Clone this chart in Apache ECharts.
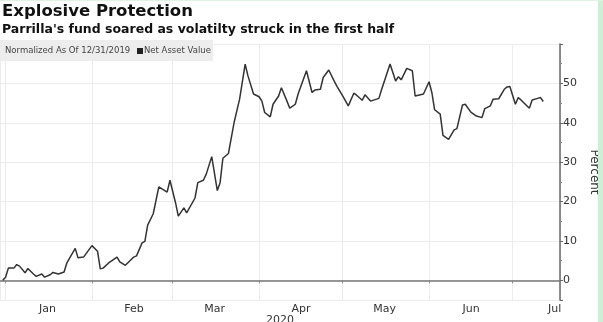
<!DOCTYPE html>
<html>
<head>
<meta charset="utf-8">
<script src="https://cdn.jsdelivr.net/npm/echarts@6/dist/echarts.min.js"></script>
<style>
html,body{margin:0;padding:0;background:#fff;}
#c{position:absolute;left:0;top:0;width:603px;height:322px;}
#edge{position:absolute;left:598px;top:0;width:5px;height:322px;background:#cfeed6;}
#edgeTop{position:absolute;left:0;top:0;width:603px;height:1px;background:#dff2e3;}
</style>
</head>
<body>
<div id="c"></div>
<div id="edge"></div>
<div id="edgeTop"></div>
<script>
const titleText = 'Explosive Protection';
const subtitleText = "Parrilla's fund soared as volatilty struck in the first half";
const noteText = 'Normalized As Of 12/31/2019';
const seriesName = 'Net Asset Value';
const monthNames = ['Jan','Feb','Mar','Apr','May','Jun','Jul','Aug','Sep','Oct','Nov','Dec'];
const yearLabel = '2020';
const yAxisName = 'Percent';

const dates = [
 '2019-12-31','2020-01-01','2020-01-02','2020-01-04','2020-01-05','2020-01-06','2020-01-08','2020-01-09',
 '2020-01-11','2020-01-12','2020-01-14','2020-01-15','2020-01-17','2020-01-18','2020-01-20','2020-01-22',
 '2020-01-23','2020-01-26','2020-01-27','2020-01-29','2020-02-01','2020-02-03','2020-02-04','2020-02-05',
 '2020-02-07','2020-02-10','2020-02-11','2020-02-13','2020-02-16','2020-02-17','2020-02-19','2020-02-20',
 '2020-02-21','2020-02-23','2020-02-25','2020-02-28','2020-02-29','2020-03-02','2020-03-03','2020-03-05',
 '2020-03-06','2020-03-09','2020-03-10','2020-03-12','2020-03-13','2020-03-15','2020-03-17','2020-03-18',
 '2020-03-19','2020-03-21','2020-03-23','2020-03-25','2020-03-27','2020-03-28','2020-03-30','2020-04-01',
 '2020-04-02','2020-04-03','2020-04-05','2020-04-06','2020-04-08','2020-04-09','2020-04-11','2020-04-12',
 '2020-04-14','2020-04-15','2020-04-18','2020-04-20','2020-04-21','2020-04-23','2020-04-24','2020-04-26',
 '2020-04-28','2020-04-29','2020-05-01','2020-05-03','2020-05-05','2020-05-06','2020-05-08','2020-05-09',
 '2020-05-11','2020-05-14','2020-05-15','2020-05-18','2020-05-20','2020-05-21','2020-05-22','2020-05-24',
 '2020-05-26','2020-05-27','2020-05-30','2020-06-01','2020-06-02','2020-06-03','2020-06-05','2020-06-06',
 '2020-06-08','2020-06-10','2020-06-11','2020-06-13','2020-06-14','2020-06-16','2020-06-18','2020-06-20',
 '2020-06-21','2020-06-23','2020-06-24','2020-06-26','2020-06-28','2020-06-29','2020-06-30','2020-07-02',
 '2020-07-03','2020-07-04','2020-07-07','2020-07-08','2020-07-10','2020-07-11','2020-07-12'
];
const navValues = [
 0.0, 0.8, 3.1, 3.1, 4.0, 3.6, 1.9, 3.0,
 1.6, 1.0, 1.6, 0.8, 1.4, 2.0, 1.6, 2.1,
 4.4, 8.1, 5.7, 5.9, 8.8, 7.4, 2.9, 3.1,
 4.4, 5.9, 4.7, 3.8, 5.9, 6.2, 9.5, 9.9,
 14.0, 16.9, 23.7, 22.4, 25.4, 19.7, 16.3, 18.4,
 17.1, 20.9, 24.8, 25.4, 26.9, 31.4, 22.8, 24.8,
 31.0, 32.2, 40.0, 46.0, 54.9, 51.9, 47.3, 46.6,
 45.5, 42.6, 41.5, 44.7, 46.8, 48.9, 45.5, 43.7,
 44.7, 47.3, 53.2, 47.7, 48.3, 48.5, 51.5, 53.4,
 50.5, 49.2, 46.8, 44.3, 47.5, 47.0, 45.7, 47.1,
 45.5, 46.2, 48.5, 54.9, 50.6, 51.7, 50.9, 53.8,
 53.2, 46.8, 47.3, 50.4, 47.7, 43.3, 42.2, 36.8,
 35.8, 38.2, 38.5, 44.5, 44.7, 42.7, 41.7, 41.3,
 43.6, 44.3, 46.0, 46.1, 48.5, 49.1, 49.2, 44.7,
 46.4, 45.8, 43.7, 45.8, 46.2, 46.4, 45.4
];
const xMin = '2019-12-30';
const xMax = '2020-07-18';
const yMin = -5;
const yMax = 60;
const yLabelMin = 0;
const yLabelMax = 50;

const seriesData = dates.map((d, i) => [d, navValues[i]]);
const font = 'DejaVu Sans';

const chart = echarts.init(document.getElementById('c'), null, {renderer: 'canvas'});
chart.setOption({
  animation: false,
  backgroundColor: 'transparent',
  grid: {left: 0, right: 43, top: 44, bottom: 22, containLabel: false, outerBoundsMode: 'none'},
  graphic: [
    {type: 'text', left: 2, top: 3, style: {text: titleText, font: 'bold 16.5px "DejaVu Sans"', fill: '#111'}},
    {type: 'text', left: 2, top: 23, style: {text: subtitleText, font: 'bold 12.5px "DejaVu Sans"', fill: '#111'}},
    {type: 'rect', left: 0, top: 40, z: 10, shape: {width: 213, height: 21}, style: {fill: '#ededed'}},
    {type: 'text', left: 5, top: 46, z: 11, style: {text: noteText, font: '8.5px "DejaVu Sans"', fill: '#444'}},
    {type: 'rect', left: 137, top: 48, z: 11, shape: {width: 6, height: 6}, style: {fill: '#222'}},
    {type: 'text', left: 144, top: 46, z: 11, style: {text: seriesName, font: '8.5px "DejaVu Sans"', fill: '#444'}}
  ],
  xAxis: {
    type: 'time',
    min: xMin,
    max: xMax,
    splitNumber: 7,
    minInterval: 28 * 86400000,
    maxInterval: 31 * 86400000,
    name: yearLabel,
    nameLocation: 'middle',
    nameGap: 15,
    nameMoveOverlap: false,
    nameTextStyle: {fontFamily: font, fontSize: 11, color: '#333'},
    axisLine: {show: true, lineStyle: {color: '#777', width: 1.5}},
    axisTick: {show: true, length: 3, lineStyle: {color: '#888'}},
    minorTick: {show: false},
    splitLine: {show: true, lineStyle: {color: '#ececec', width: 1}},
    axisLabel: {
      fontFamily: font, fontSize: 11, color: '#333', margin: 4,
      padding: [0, 0, 0, 84],
      formatter: function (v) { return monthNames[new Date(v).getMonth()]; }
    }
  },
  yAxis: {
    type: 'value',
    position: 'right',
    min: yMin,
    max: yMax,
    splitNumber: 7,
    name: yAxisName,
    nameLocation: 'middle',
    nameRotate: -90,
    nameGap: 23,
    nameTextStyle: {fontFamily: font, fontSize: 12, color: '#333'},
    axisLine: {show: true, lineStyle: {color: '#666', width: 1.5}},
    axisTick: {show: true, length: 3, lineStyle: {color: '#666'}},
    minorTick: {show: true, splitNumber: 2, length: 2, lineStyle: {color: '#888'}},
    splitLine: {show: true, lineStyle: {color: '#ececec', width: 1}},
    axisLabel: {
      fontFamily: font, fontSize: 11, color: '#333', margin: 3,
      formatter: function (v) { return (v < yLabelMin || v > yLabelMax) ? '' : String(v); }
    }
  },
  series: [{
    name: seriesName,
    type: 'line',
    data: seriesData,
    showSymbol: false,
    symbol: 'none',
    lineStyle: {color: '#333', width: 1.5},
    z: 5
  }]
});
</script>
</body>
</html>
